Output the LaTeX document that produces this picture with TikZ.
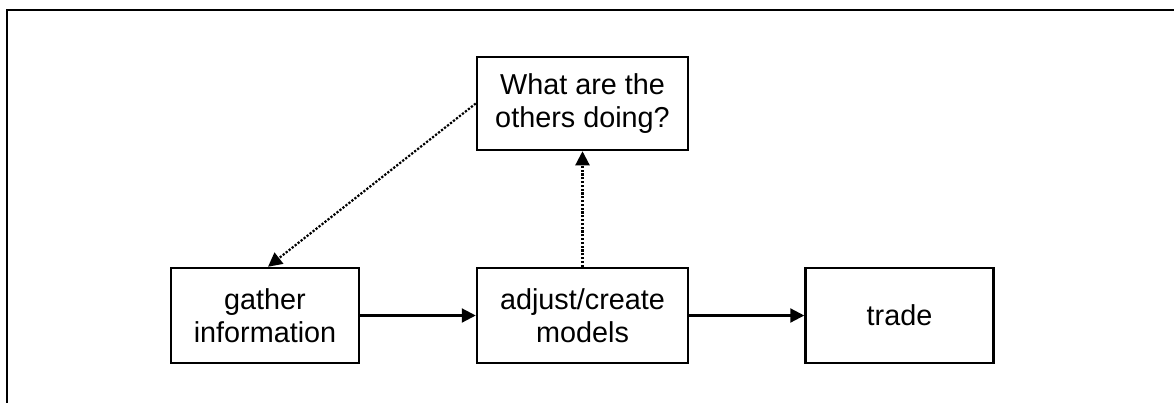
\documentclass[tikz,border=0pt]{standalone}
\usepackage{fontspec}
\setmainfont{Liberation Sans}
\usetikzlibrary{arrows.meta}

\begin{document}
\begin{tikzpicture}[x=0.5pt,y=-0.5pt]
	\tikzstyle{every node}+=[inner sep=0pt]
	\tikzstyle{stepbox}=[draw, line width=1.25pt, minimum width=94pt, minimum height=47.5pt, align=center, font=\fontsize{14.4}{16.8}\selectfont]
	\tikzstyle{widebox}=[stepbox, minimum width=105.5pt]
	\tikzstyle{flow}=[line width=1.1pt, -{Triangle[length=7pt,width=7pt]}]
	\tikzstyle{hint}=[flow, line width=1.1pt, dash pattern=on 1.1pt off 0.8pt]
	\useasboundingbox (0,0) rectangle (1174,403);
	\draw [line width=1.3pt] (1174,10) -- (7,10) -- (7,403);
	\node [widebox, minimum height=46.5pt] (others) at (582.5,103.5) {What are the\\others doing?};
	\node [stepbox] (gather) at (265,315.5) {gather\\information};
	\node [widebox] (adjust) at (582.5,315.5) {adjust/create\\models};
	\node [stepbox] (trade) at (899.5,315.5) {trade};
	\draw [flow] (gather) -- (adjust);
	\draw [flow] (adjust) -- (trade);
	\draw [hint] (adjust) -- (others);
	\draw [hint] (others.west) -- ([xshift=1.5pt]gather.north);
\end{tikzpicture}
\end{document}
